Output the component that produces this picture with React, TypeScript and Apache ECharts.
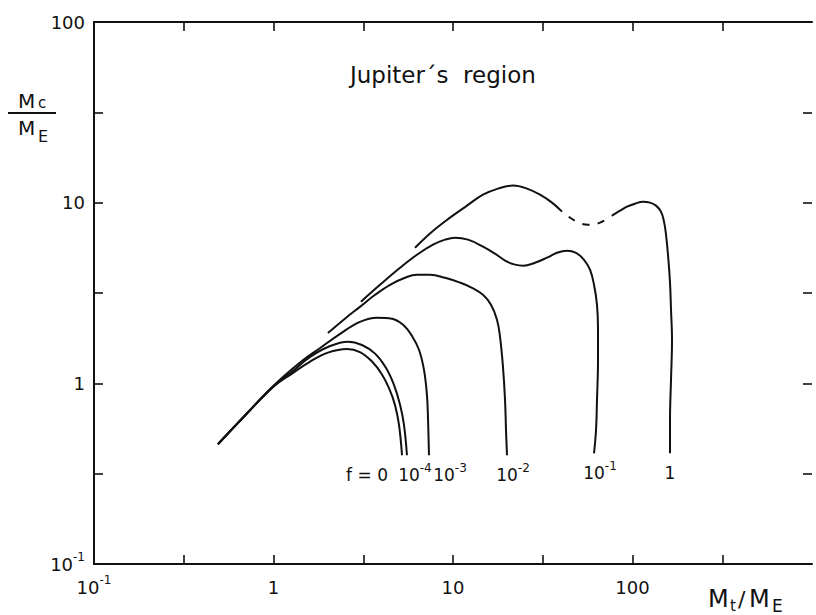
import { useEffect, useRef } from 'react';
import * as echarts from 'echarts';

const FONT = '"DejaVu Sans", "Liberation Sans", sans-serif';
const INK = '#111111';

// Decades (log10 of the value) that carry a tick label
const xLabelDecades = [-1, 0, 1, 2];
const yLabelDecades = [-1, 0, 1, 2];
// Tick marks every half decade, in log10 units
const xTickLogs = [-0.5, 0, 0.5, 1, 1.5, 2, 2.5];
const yTickLogs = [-0.5, 0, 0.5, 1, 1.5];

// Core mass Mc/ME against total mass Mt/ME, one curve per value of f
const curveF0 = [
  [0.49, 0.46], [0.70, 0.67], [1.0, 0.96], [1.28, 1.14], [1.60, 1.32],
  [2.01, 1.48], [2.57, 1.55], [3.03, 1.49], [3.54, 1.32], [4.02, 1.12],
  [4.40, 0.94], [4.75, 0.76], [5.00, 0.59], [5.20, 0.40],
];
const curveF4 = [
  [0.49, 0.46], [0.70, 0.67], [1.0, 0.96], [1.28, 1.17], [1.60, 1.40],
  [2.01, 1.59], [2.60, 1.70], [3.11, 1.63], [3.68, 1.46], [4.23, 1.22],
  [4.69, 0.98], [5.07, 0.76], [5.33, 0.59], [5.54, 0.40],
];
const curveF3 = [
  [0.49, 0.46], [0.70, 0.67], [1.0, 0.97], [1.40, 1.30], [1.82, 1.57],
  [2.35, 1.88], [3.03, 2.19], [3.77, 2.31], [4.57, 2.28], [5.27, 2.11],
  [5.91, 1.83], [6.47, 1.53], [6.89, 1.19], [7.16, 0.86], [7.26, 0.63],
  [7.35, 0.40],
];
const curveF2 = [
  [2.01, 1.90], [2.50, 2.28], [3.03, 2.65], [3.68, 3.09], [4.46, 3.51],
  [5.40, 3.84], [6.30, 3.99], [7.45, 3.99], [9.03, 3.84], [10.94, 3.61],
  [12.76, 3.38], [14.69, 3.09], [16.28, 2.72], [17.58, 2.25], [18.28, 1.81],
  [18.99, 1.23], [19.49, 0.81], [19.74, 0.55], [19.99, 0.40],
];
const curveF1 = [
  [3.07, 2.83], [3.92, 3.51], [5.07, 4.36], [6.30, 5.15], [7.74, 5.85],
  [9.03, 6.24], [10.26, 6.40], [12.12, 6.24], [14.69, 5.71], [17.14, 5.22],
  [19.99, 4.71], [22.15, 4.54], [24.55, 4.48], [28.63, 4.65], [33.40, 4.96],
  [37.96, 5.28], [43.16, 5.42], [48.44, 5.28], [53.68, 4.83], [57.99, 4.26],
  [61.04, 3.51], [63.42, 2.72], [64.25, 1.98], [64.25, 1.35], [63.42, 0.81],
  [62.62, 0.55], [61.04, 0.41],
];
// f = 1 is drawn in three pieces: rise, uncertain (dashed) dip, second hump
const curveFOneRise = [
  [6.14, 5.63], [7.64, 6.91], [9.62, 8.26], [11.97, 9.63], [14.69, 11.07],
  [17.81, 11.96], [21.60, 12.43], [25.84, 11.96], [30.52, 11.07],
  [35.61, 10.0], [40.48, 8.92],
];
const curveFOneDip = [
  [40.48, 8.92], [47.83, 7.95], [56.50, 7.55], [65.92, 7.75], [76.89, 8.47],
];
const curveFOneFall = [
  [76.89, 8.47], [85.20, 9.03], [93.19, 9.50], [103.2, 9.87], [114.4, 10.13],
  [125.2, 10.0], [135.2, 9.63], [144.1, 8.92], [149.8, 7.85], [153.7, 6.65],
  [157.7, 5.15], [161.8, 3.60], [163.9, 2.55], [166.0, 1.74], [163.9, 1.05],
  [161.8, 0.63], [161.8, 0.41],
];

// Curve tags written under the foot of each curve
const tagTexts = ['{b|f = 0}', '{b|10}{s|-4}', '{b|10}{s|-3}', '{b|10}{s|-2}', '{b|10}{s|-1}', '{b|1}'];

const supRich = (base: number) => ({
  b: { fontSize: base, fontFamily: FONT, color: INK, lineHeight: 26 },
  s: { fontSize: 12, fontFamily: FONT, color: INK, lineHeight: 12, verticalAlign: 'top' },
});

function decadeText(v: number, allowed: number[]) {
  const k = Math.round(Math.log10(v));
  if (allowed.indexOf(k) < 0) return '';
  if (k < 0) return '{b|10}{s|' + k + '}';
  return '{b|' + String(Math.pow(10, k)) + '}';
}

function curveSeries(
  name: string,
  data: number[][],
  tag?: string,
  nudge?: number[],
  dashed?: boolean,
) {
  const last = data.length - 1;
  return {
    type: 'line',
    name,
    silent: true,
    smooth: 0.4,
    showSymbol: true,
    symbol: 'circle',
    symbolSize: 0,
    lineStyle: dashed
      ? { color: INK, width: 2, type: [7, 8.5], dashOffset: 7 }
      : { color: INK, width: 2 },
    itemStyle: { color: INK },
    data: data.map((p, i) =>
      i === last && tag
        ? {
            value: p,
            label: {
              show: true,
              position: 'inside',
              formatter: tag,
              offset: nudge,
              rich: supRich(17),
            },
          }
        : p,
    ),
  };
}

const tickAxisBase = {
  type: 'value',
  axisLine: { show: false, onZero: false },
  axisLabel: { show: false },
  splitLine: { show: false },
  axisTick: {
    show: true,
    inside: true,
    length: 9,
    lineStyle: { color: INK, width: 1.6 },
  },
};

export default function App() {
  const ref = useRef<HTMLDivElement>(null);

  useEffect(() => {
    if (!ref.current) return;
    const chart = echarts.init(ref.current, undefined, { renderer: 'svg' });

    const option = {
      animation: false,
      backgroundColor: '#ffffff',
      grid: { left: 94, right: 4, top: 22, bottom: 51, outerBoundsMode: 'none' },
      xAxis: [
        {
          type: 'log',
          logBase: 10,
          min: 0.1,
          max: 1000,
          position: 'bottom',
          axisLine: { show: true, onZero: false, lineStyle: { color: INK, width: 2 } },
          axisTick: { show: false },
          splitLine: { show: false },
          axisLabel: {
            margin: 10,
            formatter: (v: number) => decadeText(v, xLabelDecades),
            rich: supRich(18),
          },
        },
        {
          ...tickAxisBase,
          min: -1,
          max: 3,
          position: 'bottom',
          axisTick: { ...tickAxisBase.axisTick, customValues: xTickLogs },
        },
        {
          ...tickAxisBase,
          min: -1,
          max: 3,
          position: 'top',
          axisLine: { show: true, onZero: false, lineStyle: { color: INK, width: 2 } },
          axisTick: { ...tickAxisBase.axisTick, customValues: xTickLogs },
        },
      ],
      yAxis: [
        {
          type: 'log',
          logBase: 10,
          min: 0.1,
          max: 100,
          position: 'left',
          axisLine: { show: true, onZero: false, lineStyle: { color: INK, width: 2 } },
          axisTick: { show: false },
          splitLine: { show: false },
          axisLabel: {
            margin: 9,
            formatter: (v: number) => decadeText(v, yLabelDecades),
            rich: supRich(18),
          },
        },
        {
          ...tickAxisBase,
          min: -1,
          max: 2,
          position: 'left',
          axisTick: { ...tickAxisBase.axisTick, customValues: yTickLogs },
        },
        {
          ...tickAxisBase,
          min: -1,
          max: 2,
          position: 'right',
          axisTick: { ...tickAxisBase.axisTick, customValues: yTickLogs },
        },
      ],
      series: [
        curveSeries('f = 0', curveF0, tagTexts[0], [-35, 20]),
        curveSeries('f = 1e-4', curveF4, tagTexts[1], [8, 20]),
        curveSeries('f = 1e-3', curveF3, tagTexts[2], [21, 20]),
        curveSeries('f = 1e-2', curveF2, tagTexts[3], [6, 20]),
        curveSeries('f = 1e-1', curveF1, tagTexts[4], [6, 20]),
        curveSeries('f = 1', curveFOneRise),
        curveSeries('f = 1 (dip)', curveFOneDip, undefined, undefined, true),
        curveSeries('f = 1', curveFOneFall, tagTexts[5], [0, 20]),
      ],
      graphic: [
        {
          type: 'text',
          x: 350,
          y: 63,
          style: {
            text: 'Jupiter´s  region',
            font: '23px ' + FONT,
            fill: INK,
            align: 'left',
            verticalAlign: 'top',
          },
        },
        // y-axis title: Mc over ME
        { type: 'text', x: 18, y: 91, style: { text: 'M', font: '20px ' + FONT, fill: INK, verticalAlign: 'top' } },
        { type: 'text', x: 38, y: 95, style: { text: 'c', font: '15px ' + FONT, fill: INK, verticalAlign: 'top' } },
        { type: 'line', shape: { x1: 8, y1: 113, x2: 56, y2: 113 }, style: { stroke: INK, lineWidth: 2 } },
        { type: 'text', x: 18, y: 118, style: { text: 'M', font: '20px ' + FONT, fill: INK, verticalAlign: 'top' } },
        { type: 'text', x: 38, y: 128, style: { text: 'E', font: '16px ' + FONT, fill: INK, verticalAlign: 'top' } },
        // x-axis title: Mt / ME
        { type: 'text', x: 708, y: 587, style: { text: 'M', font: '24px ' + FONT, fill: INK, verticalAlign: 'top' } },
        { type: 'text', x: 730, y: 598, style: { text: 't', font: '15px ' + FONT, fill: INK, verticalAlign: 'top' } },
        { type: 'text', x: 738, y: 588, style: { text: '/', font: '22px ' + FONT, fill: INK, verticalAlign: 'top' } },
        { type: 'text', x: 749, y: 587, style: { text: 'M', font: '24px ' + FONT, fill: INK, verticalAlign: 'top' } },
        { type: 'text', x: 772, y: 597, style: { text: 'E', font: '17px ' + FONT, fill: INK, verticalAlign: 'top' } },
      ],
    };

    chart.setOption(option as any);
    return () => chart.dispose();
  }, []);

  return (
    <div
      ref={ref}
      style={{ position: 'fixed', left: 0, top: 0, width: 816, height: 615, background: '#fff' }}
    />
  );
}
